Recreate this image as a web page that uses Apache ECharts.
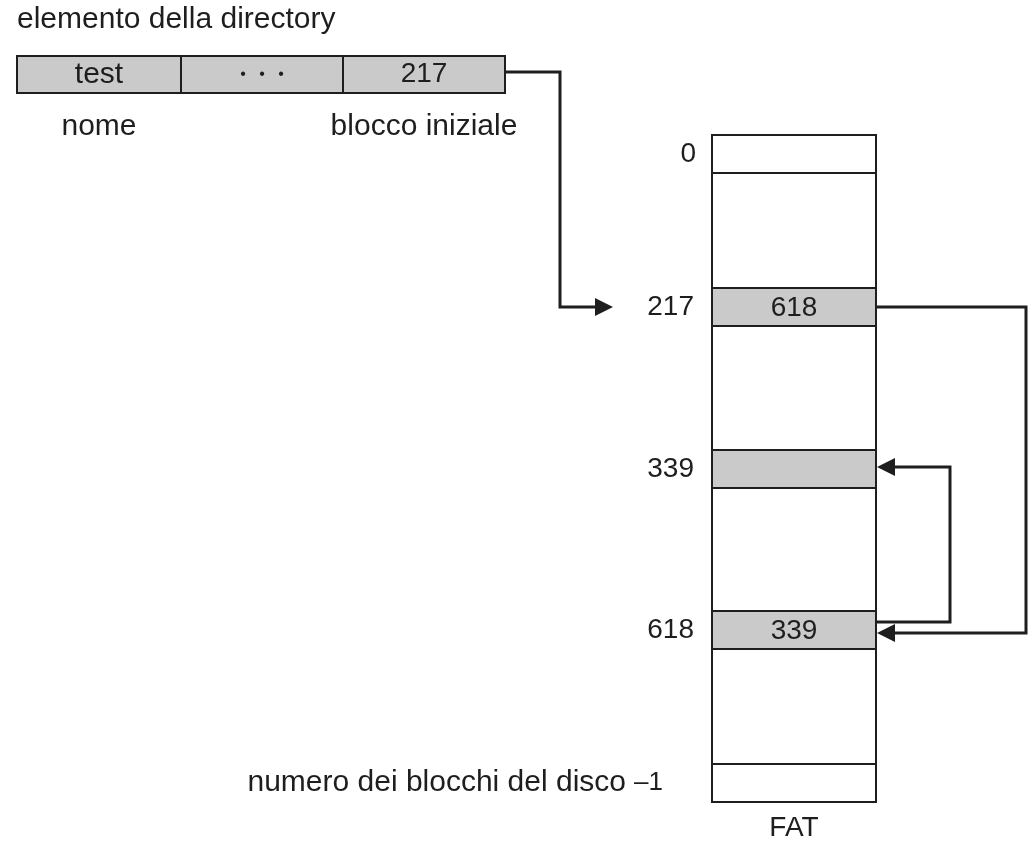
<!DOCTYPE html>
<html><head><meta charset="utf-8">
<script src="https://cdn.jsdelivr.net/npm/echarts@6/dist/echarts.min.js"></script>
<style>html,body{margin:0;padding:0;background:#fff}#c{width:1030px;height:846px}</style>
</head><body><div id="c"></div>
<script>
// ---- data ----
const dirTitle = 'elemento della directory';
const dirFields = ['test', '•   •   •', '217'];
const dirCaptions = ['nome', '', 'blocco iniziale'];
const fatIndex = ['0', '217', '339', '618', '–1'];
const fatValue = ['', '618', '', '339', ''];
const fatCaption = 'FAT';
const sizeCaption = 'numero dei blocchi del disco';
const links = [['dir', '217'], ['217', '618'], ['618', '339']];

// ---- layout (diagram coordinates) ----
const L = {
  titleX: 17, titleY: 20,
  dirX: [17, 181, 343, 505], dirTop: 56, dirBot: 93, captionY: 127,
  fatLeft: 712, fatRight: 876, fatTop: 135, fatBot: 802, rowH: 38,
  rowTop: [135, 288, 450, 611, 764],
  idxRight: [696, 694, 694, 694, 663],
  sizeCaptionRight: 626, fatCaptionY: 828,
  routes: [
    [[505, 72], [560, 72], [560, 307], [613, 307]],
    [[876, 307], [1026, 307], [1026, 633], [877, 633]],
    [[876, 622], [950, 622], [950, 467], [877, 467]]
  ]
};
const FONT = 'Liberation Sans, Arial, sans-serif';
const FS_WORD = 30, FS_NUM = 28;
const INK = '#1e1e1e';
const GREY = '#cacaca';
const LW = 2;

function txt(api, x, y, s, align, size) {
  const p = api.coord([x, y]);
  return { type: 'text', style: { x: p[0], y: p[1], text: s, fill: INK, font: (size || FS_WORD) + 'px ' + FONT, align: align || 'center', verticalAlign: 'middle' } };
}
function rect(api, x0, y0, x1, y1, fill) {
  const a = api.coord([x0, y0]), b = api.coord([x1, y1]);
  return { type: 'rect', shape: { x: a[0], y: a[1], width: b[0] - a[0], height: b[1] - a[1] }, style: { fill: fill, stroke: INK, lineWidth: LW } };
}
const highlighted = fatIndex.map((idx, i) => fatValue[i] !== '' || links.some(l => l[1] === idx));

const chart = echarts.init(document.getElementById('c'), null, { renderer: 'canvas' });
chart.setOption({
  animation: false,
  backgroundColor: '#fff',
  grid: { left: 0, right: 0, top: 0, bottom: 0 },
  xAxis: { type: 'value', min: 0, max: 1030, show: false },
  yAxis: { type: 'value', min: 0, max: 846, inverse: true, show: false },
  series: [
    { // directory entry
      type: 'custom', data: dirFields.map((f, i) => [i]),
      renderItem: (params, api) => {
        const i = params.dataIndex;
        const x0 = L.dirX[i], x1 = L.dirX[i + 1];
        const cx = (x0 + x1) / 2;
        const size = i === 1 ? 16 : (i === 2 ? FS_NUM : FS_WORD);
        const ch = [rect(api, x0, L.dirTop, x1, L.dirBot, GREY),
          txt(api, cx, (L.dirTop + L.dirBot) / 2, dirFields[i], 'center', size)];
        if (dirCaptions[i]) ch.push(txt(api, cx, L.captionY, dirCaptions[i]));
        if (i === 0) ch.push(txt(api, L.titleX, L.titleY, dirTitle, 'left'));
        return { type: 'group', children: ch };
      }
    },
    { // FAT table
      type: 'custom', data: fatIndex.map((f, i) => [i]),
      renderItem: (params, api) => {
        const i = params.dataIndex;
        const y0 = L.rowTop[i], y1 = y0 + L.rowH, cy = (y0 + y1) / 2;
        const ch = [];
        if (i === 0) {
          ch.push(rect(api, L.fatLeft, L.fatTop, L.fatRight, L.fatBot, 'none'));
          ch.push(txt(api, (L.fatLeft + L.fatRight) / 2, L.fatCaptionY, fatCaption, 'center', FS_NUM));
        }
        ch.push(rect(api, L.fatLeft, y0, L.fatRight, y1, highlighted[i] ? GREY : '#fff'));
        if (fatValue[i]) ch.push(txt(api, (L.fatLeft + L.fatRight) / 2, cy + 1, fatValue[i], 'center', FS_NUM));
        const last = i === fatIndex.length - 1;
        ch.push(txt(api, L.idxRight[i], cy, fatIndex[i], 'right', last ? 26 : FS_NUM));
        if (last) ch.push(txt(api, L.sizeCaptionRight, cy, sizeCaption, 'right'));
        return { type: 'group', children: ch };
      }
    },
    { // chain arrows
      type: 'custom', data: links.map((l, i) => [i]), z: 5,
      renderItem: (params, api) => {
        const r = L.routes[params.dataIndex];
        const pts = r.map(p => api.coord(p));
        const tip = pts[pts.length - 1], prev = pts[pts.length - 2];
        const dir = Math.sign(tip[0] - prev[0]);
        const head = 18, half = 9;
        const line = pts.slice(0, -1).concat([[tip[0] - dir * (head - 2), tip[1]]]);
        return { type: 'group', children: [
          { type: 'polyline', shape: { points: line }, style: { stroke: INK, lineWidth: 3, fill: 'none' } },
          { type: 'polygon', shape: { points: [tip, [tip[0] - dir * head, tip[1] - half], [tip[0] - dir * head, tip[1] + half]] }, style: { fill: INK } }
        ] };
      }
    }
  ]
});
</script></body></html>
